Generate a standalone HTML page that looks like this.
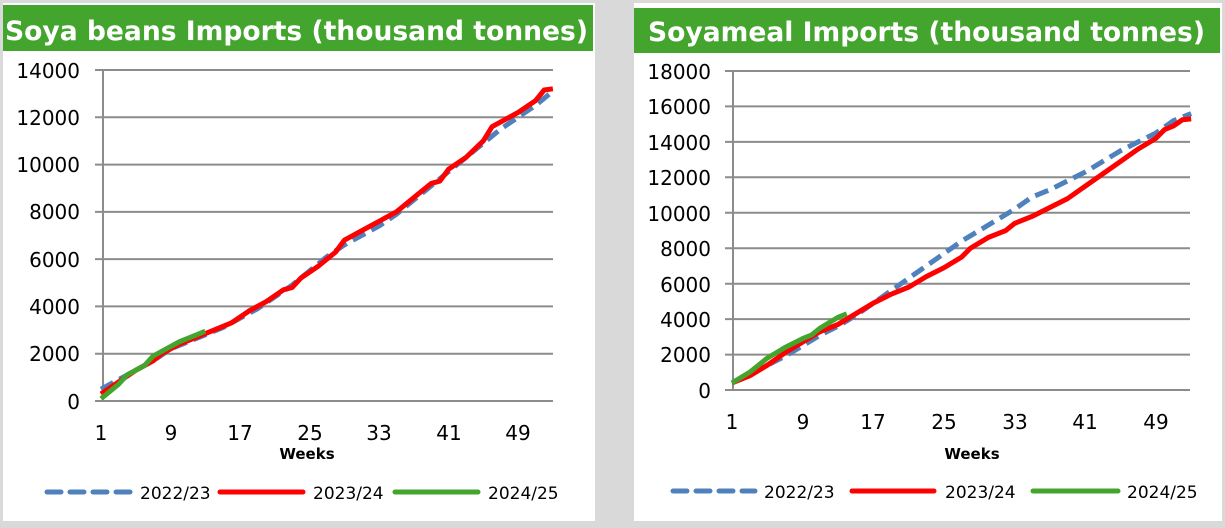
<!DOCTYPE html>
<html><head><style>
html,body{margin:0;padding:0;background:#d9d9d9;}
svg{display:block;font-family:"DejaVu Sans","Liberation Sans",sans-serif;}
</style></head><body>
<svg width="1225" height="528" viewBox="0 0 1225 528" xmlns="http://www.w3.org/2000/svg">
<rect x="0" y="0" width="1225" height="528" fill="#d9d9d9"/>
<rect x="3" y="3" width="592" height="518" fill="#fff"/>
<rect x="634" y="3" width="588" height="518" fill="#fff"/>
<rect x="3" y="5" width="590" height="46" fill="#43a52d"/>
<rect x="634" y="8" width="586" height="45" fill="#43a52d"/>
<text x="5" y="40" font-size="27" font-weight="bold" fill="#fff" textLength="583" lengthAdjust="spacingAndGlyphs">Soya beans Imports (thousand tonnes)</text>
<text x="648" y="41" font-size="27" font-weight="bold" fill="#fff" textLength="557" lengthAdjust="spacingAndGlyphs">Soyameal Imports (thousand tonnes)</text>

<!-- left grid -->
<g stroke="#8c8c8c" stroke-width="2">
<line x1="95" y1="70" x2="553" y2="70"/><line x1="95" y1="117.3" x2="553" y2="117.3"/>
<line x1="95" y1="164.6" x2="553" y2="164.6"/><line x1="95" y1="211.9" x2="553" y2="211.9"/>
<line x1="95" y1="259.1" x2="553" y2="259.1"/><line x1="95" y1="306.4" x2="553" y2="306.4"/>
<line x1="95" y1="353.7" x2="553" y2="353.7"/><line x1="95" y1="401" x2="553" y2="401"/>
<line x1="103" y1="70" x2="103" y2="401"/>
</g>
<g font-size="20" fill="#000" text-anchor="end">
<text x="80" y="78">14000</text><text x="80" y="125">12000</text><text x="80" y="172">10000</text>
<text x="80" y="219">8000</text><text x="80" y="267">6000</text><text x="80" y="314">4000</text>
<text x="80" y="361">2000</text><text x="80" y="409">0</text>
</g>
<g font-size="20" fill="#000" text-anchor="middle">
<text x="101" y="440">1</text><text x="171" y="440">9</text><text x="240" y="440">17</text><text x="310" y="440">25</text>
<text x="379" y="440">33</text><text x="449" y="440">41</text><text x="518" y="440">49</text>
</g>
<text x="307" y="459" font-size="15" font-weight="bold" text-anchor="middle">Weeks</text>
<g transform="translate(92.31,401) scale(8.69,-0.02365)" fill="none" stroke-linejoin="round">
<polyline vector-effect="non-scaling-stroke" stroke="#4f81bd" stroke-width="5" stroke-dasharray="14,7" points="1,500 3,900 5,1300 7,1700 9,2200 11,2500 13,2800 15,3100 17,3500 19,3900 21,4400 23,4900 25,5500 27,6100 29,6600 31,7000 33,7400 35,7900 37,8500 39,9100 41,9700 43,10300 45,10900 47,11500 49,12000 51,12500 53,13100"/>
<polyline vector-effect="non-scaling-stroke" stroke="#ff0000" stroke-width="5" points="1,300 3,800 5,1300 7,1700 8,2000 10,2400 12,2700 14,3000 16,3300 18,3800 20,4200 22,4700 23,4800 24,5200 26,5700 28,6300 29,6800 31,7200 33,7600 35,8000 37,8600 39,9200 40,9300 41,9800 43,10300 45,11000 46,11600 47,11800 49,12200 51,12700 52,13150 53,13200"/>
<polyline vector-effect="non-scaling-stroke" stroke="#43a52d" stroke-width="5" points="1,100 2,400 3,700 4,1100 5,1300 6,1500 7,1900 8,2100 9,2300 10,2500 11,2650 12,2800 13,2950"/>
</g>
<g stroke-width="5" stroke-linecap="round">
<line x1="47" y1="492" x2="135" y2="492" stroke="#4f81bd" stroke-dasharray="14,9"/>
<line x1="220" y1="492" x2="303" y2="492" stroke="#ff0000"/>
<line x1="395" y1="492" x2="478" y2="492" stroke="#43a52d"/>
</g>
<g font-size="17" fill="#000">
<text x="140" y="499">2022/23</text><text x="313" y="499">2023/24</text><text x="488" y="499">2024/25</text>
</g>

<!-- right grid -->
<g stroke="#8c8c8c" stroke-width="2">
<line x1="725" y1="71" x2="1190" y2="71"/><line x1="725" y1="106.4" x2="1190" y2="106.4"/>
<line x1="725" y1="141.9" x2="1190" y2="141.9"/><line x1="725" y1="177.3" x2="1190" y2="177.3"/>
<line x1="725" y1="212.8" x2="1190" y2="212.8"/><line x1="725" y1="248.2" x2="1190" y2="248.2"/>
<line x1="725" y1="283.7" x2="1190" y2="283.7"/><line x1="725" y1="319.1" x2="1190" y2="319.1"/>
<line x1="725" y1="354.6" x2="1190" y2="354.6"/><line x1="725" y1="390" x2="1190" y2="390"/>
<line x1="733" y1="71" x2="733" y2="390"/>
</g>
<g font-size="20" fill="#000" text-anchor="end">
<text x="711" y="79">18000</text><text x="711" y="114">16000</text><text x="711" y="150">14000</text>
<text x="711" y="185">12000</text><text x="711" y="221">10000</text><text x="711" y="256">8000</text>
<text x="711" y="292">6000</text><text x="711" y="327">4000</text><text x="711" y="362">2000</text><text x="711" y="398">0</text>
</g>
<g font-size="20" fill="#000" text-anchor="middle">
<text x="732" y="429">1</text><text x="803" y="429">9</text><text x="873" y="429">17</text><text x="944" y="429">25</text>
<text x="1015" y="429">33</text><text x="1085" y="429">41</text><text x="1156" y="429">49</text>
</g>
<text x="972" y="459" font-size="15" font-weight="bold" text-anchor="middle">Weeks</text>
<g transform="translate(723.17,390) scale(8.83,-0.01772)" fill="none" stroke-linejoin="round">
<polyline vector-effect="non-scaling-stroke" stroke="#4f81bd" stroke-width="5" stroke-dasharray="14,7" points="1,400 3,900 5,1400 7,1900 9,2500 11,3100 13,3600 15,4200 17,4900 19,5600 21,6300 23,7000 25,7700 27,8400 29,9000 31,9600 33,10200 35,10900 37,11300 39,11800 41,12300 43,12900 45,13500 47,14000 49,14500 51,15200 53,15600"/>
<polyline vector-effect="non-scaling-stroke" stroke="#ff0000" stroke-width="5" points="1,400 3,800 5,1400 7,2100 9,2700 11,3300 13,3700 15,4300 17,4900 19,5400 21,5800 23,6400 25,6900 27,7500 28,8000 30,8600 32,9000 33,9400 35,9800 37,10300 39,10800 41,11500 43,12200 45,12900 47,13600 49,14200 50,14700 51,14900 52,15250 53,15300"/>
<polyline vector-effect="non-scaling-stroke" stroke="#43a52d" stroke-width="5" points="1,400 3,1000 5,1800 7,2400 9,2900 10,3100 11,3500 12,3800 13,4100 14,4300"/>
</g>
<g stroke-width="5" stroke-linecap="round">
<line x1="673" y1="491" x2="755" y2="491" stroke="#4f81bd" stroke-dasharray="14,9"/>
<line x1="852" y1="491" x2="934" y2="491" stroke="#ff0000"/>
<line x1="1033" y1="491" x2="1118" y2="491" stroke="#43a52d"/>
</g>
<g font-size="17" fill="#000">
<text x="764" y="498">2022/23</text><text x="945" y="498">2023/24</text><text x="1127" y="498">2024/25</text>
</g>
</svg>
</body></html>
